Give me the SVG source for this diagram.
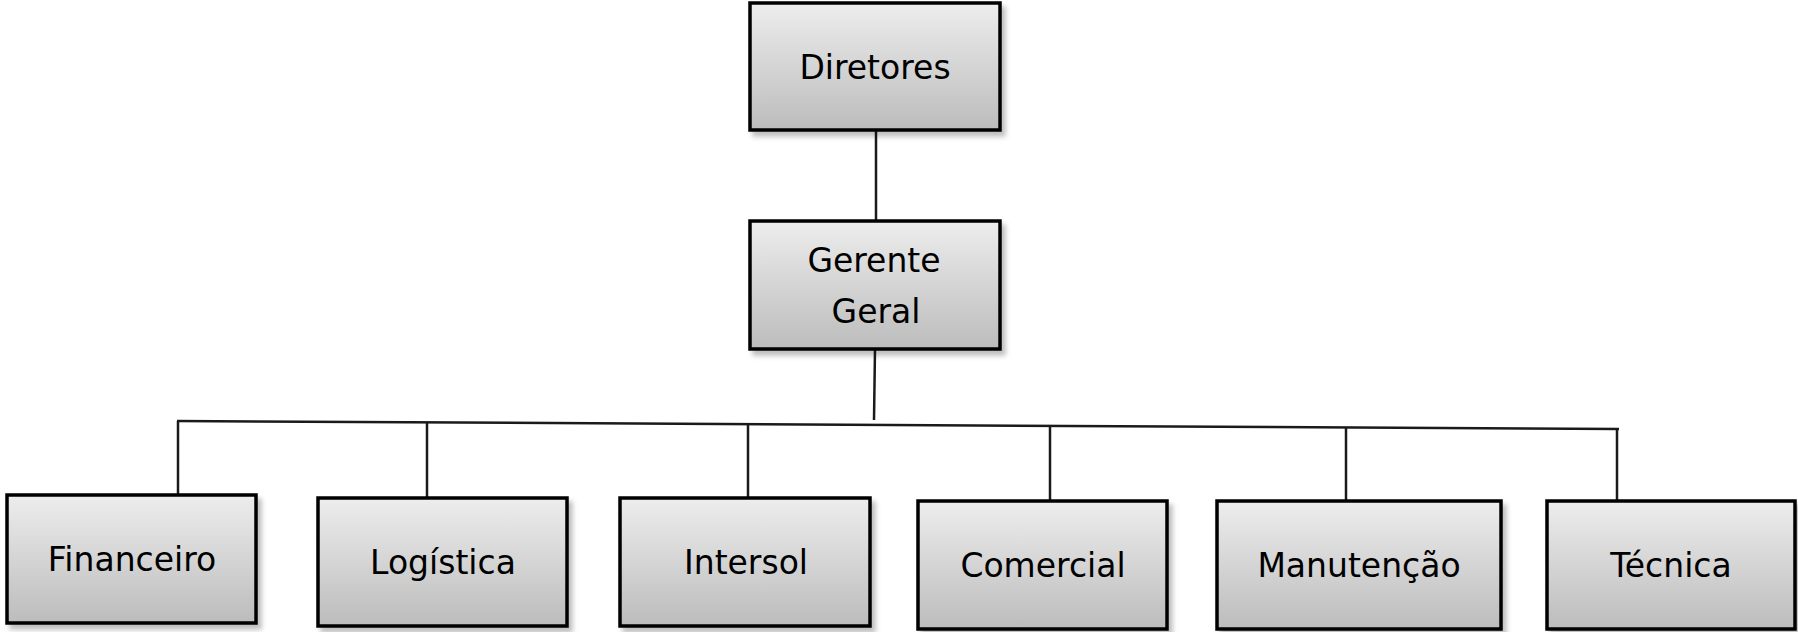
<svg xmlns="http://www.w3.org/2000/svg" width="1798" height="632" viewBox="0 0 1798 632">
<defs>
<linearGradient id="g" x1="0" y1="0" x2="0" y2="1">
<stop offset="0" stop-color="#ededed"/>
<stop offset="1" stop-color="#bcbcbc"/>
</linearGradient>
<filter id="sh" x="-10%" y="-10%" width="125%" height="130%">
<feDropShadow dx="4" dy="5" stdDeviation="2.5" flood-color="#000" flood-opacity="0.25"/>
</filter>
</defs>
<style>
.box{fill:url(#g);stroke:#000;stroke-width:3.5;filter:url(#sh)}
.t{font-family:"DejaVu Sans",sans-serif;font-size:33px;fill:#000;text-anchor:middle}
.c{stroke:#1a1a1a;stroke-width:2.5;fill:none}
</style>
<rect width="1798" height="632" fill="#fff"/>
<g id="connectors">
<line class="c" x1="876" y1="130" x2="876" y2="221"/>
<line class="c" x1="875" y1="349" x2="874" y2="420"/>
<line class="c" x1="177" y1="421" x2="1619" y2="429"/>
<line class="c" x1="178" y1="421" x2="178" y2="495"/>
<line class="c" x1="427" y1="422" x2="427" y2="498"/>
<line class="c" x1="748" y1="424" x2="748" y2="500"/>
<line class="c" x1="1050" y1="425" x2="1050" y2="501"/>
<line class="c" x1="1346" y1="427" x2="1346" y2="502"/>
<line class="c" x1="1617" y1="429" x2="1617" y2="502"/>
</g>
<g id="diretores">
<rect class="box" x="750" y="3" width="250" height="127"/>
<text class="t" x="875" y="79">Diretores</text>
</g>
<g id="gerente">
<rect class="box" x="750" y="221" width="250" height="128"/>
<text class="t" x="874" y="272">Gerente</text>
<text class="t" x="876" y="323">Geral</text>
</g>
<g id="financeiro">
<rect class="box" x="7" y="495" width="249" height="128"/>
<text class="t" x="132" y="571">Financeiro</text>
</g>
<g id="logistica">
<rect class="box" x="318" y="498" width="249" height="128"/>
<text class="t" x="443" y="574">Logística</text>
</g>
<g id="intersol">
<rect class="box" x="620" y="498" width="250" height="128"/>
<text class="t" x="746" y="574">Intersol</text>
</g>
<g id="comercial">
<rect class="box" x="918" y="501" width="249" height="128"/>
<text class="t" x="1043" y="577">Comercial</text>
</g>
<g id="manutencao">
<rect class="box" x="1217" y="501" width="284" height="128"/>
<text class="t" x="1359" y="577">Manutenção</text>
</g>
<g id="tecnica">
<rect class="box" x="1547" y="501" width="248" height="128"/>
<text class="t" x="1671" y="577">Técnica</text>
</g>
</svg>
